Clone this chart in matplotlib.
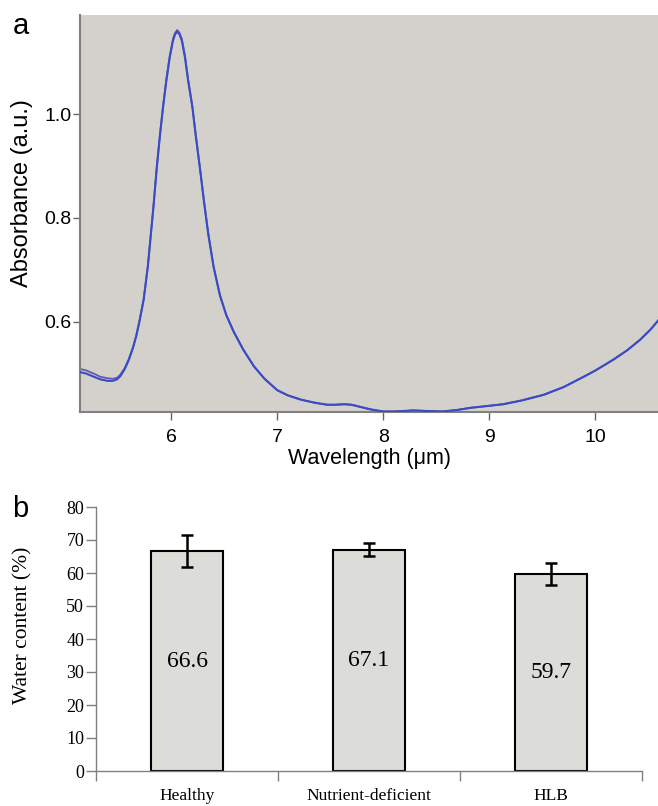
import matplotlib
matplotlib.use("Agg")
import matplotlib.pyplot as plt

# ---------------- data: panel a (absorbance spectrum) ----------------
wavelength = [5.14, 5.20, 5.27, 5.33, 5.40, 5.45, 5.49, 5.52, 5.56, 5.60, 5.64, 5.67,
              5.70, 5.74, 5.78, 5.832, 5.864, 5.895, 5.923, 5.954, 5.986, 6.017, 6.037,
              6.057, 6.077, 6.10, 6.13, 6.16, 6.20, 6.23, 6.27, 6.31, 6.35, 6.40, 6.46,
              6.52, 6.59, 6.68, 6.78, 6.88, 7.00, 7.10, 7.22, 7.35, 7.47, 7.55, 7.63,
              7.70, 7.78, 7.88, 8.00, 8.10, 8.20, 8.28, 8.40, 8.56, 8.70, 8.82, 9.00,
              9.13, 9.30, 9.51, 9.70, 9.89, 10.00, 10.17, 10.30, 10.42, 10.52, 10.59]
absorb_1 = [0.503, 0.500, 0.494, 0.489, 0.486, 0.486, 0.489, 0.495, 0.508, 0.526, 0.550, 0.572,
            0.600, 0.642, 0.707, 0.820, 0.897, 0.961, 1.013, 1.064, 1.109, 1.142, 1.154,
            1.159, 1.154, 1.142, 1.109, 1.064, 1.013, 0.961, 0.897, 0.830, 0.768, 0.705, 0.650,
            0.612, 0.580, 0.546, 0.514, 0.490, 0.468, 0.458, 0.450, 0.444, 0.440, 0.440, 0.441,
            0.440, 0.436, 0.431, 0.427, 0.427, 0.428, 0.429, 0.428, 0.427, 0.430, 0.434, 0.438,
            0.441, 0.448, 0.459, 0.474, 0.494, 0.506, 0.527, 0.545, 0.565, 0.585, 0.602]
absorb_2 = [0.509, 0.506, 0.500, 0.494, 0.491, 0.490, 0.492, 0.498, 0.510, 0.528, 0.551, 0.573,
            0.601, 0.643, 0.708, 0.821, 0.898, 0.963, 1.015, 1.067, 1.112, 1.145, 1.157,
            1.162, 1.157, 1.145, 1.112, 1.066, 1.014, 0.962, 0.898, 0.831, 0.769, 0.706, 0.651,
            0.613, 0.581, 0.546, 0.514, 0.490, 0.468, 0.458, 0.450, 0.444, 0.440, 0.440, 0.441,
            0.440, 0.436, 0.431, 0.427, 0.427, 0.428, 0.429, 0.428, 0.427, 0.430, 0.434, 0.438,
            0.441, 0.448, 0.459, 0.474, 0.494, 0.506, 0.527, 0.545, 0.565, 0.585, 0.602]
a_xticks = [6, 7, 8, 9, 10]
a_yticks = [0.6, 0.8, 1.0]

# ---------------- data: panel b (water content) ----------------
groups = ["Healthy", "Nutrient-deficient", "HLB"]
water = [66.6, 67.1, 59.7]
water_err = [4.9, 2.0, 3.4]
b_yticks = [0, 10, 20, 30, 40, 50, 60, 70, 80]

fig = plt.figure(figsize=(6.58, 8.06), dpi=100)

# ---------- panel a ----------
sans = "Liberation Sans"
axa = fig.add_axes([80/658, 1-412/806, 578/658, 397/806])
axa.set_facecolor("#d4d0cb")
axa.plot(wavelength, absorb_2, color="#6658b0", lw=1.3, zorder=2, solid_joinstyle="round")
axa.plot(wavelength, absorb_1, color="#3a4cc4", lw=1.5, zorder=3, solid_joinstyle="round")
axa.set_xlim(5.14, 10.59)
axa.set_ylim(0.426, 1.191)
axa.set_xticks(a_xticks)
axa.set_yticks(a_yticks)
axa.set_xticklabels([str(v) for v in a_xticks], fontsize=14, family=sans)
axa.set_yticklabels(["%.1f" % v for v in a_yticks], fontsize=14, family=sans)
axa.tick_params(axis="x", direction="out", length=6, width=1, color="#666666", pad=6)
axa.tick_params(axis="y", direction="out", length=5, width=1, color="#666666", pad=1)
for s in ["top", "right"]:
    axa.spines[s].set_visible(False)
for s in ["left", "bottom"]:
    axa.spines[s].set_color("#808080")
    axa.spines[s].set_linewidth(1.5)
axa.set_xlabel("Wavelength (\u03bcm)", fontsize=15.5, family=sans, labelpad=2)
axa.set_ylabel("Absorbance (a.u.)", fontsize=17, family=sans)
axa.yaxis.set_label_coords(-0.0813, 0.552)
fig.text(13/658, 1-34/806, "a", fontsize=21, family=sans, ha="left", va="baseline")

# ---------- panel b ----------
serif = "Liberation Serif"
axb = fig.add_axes([96/658, 1-771/806, 546/658, 264/806])
pos = [0.5, 1.5, 2.5]
axb.bar(pos, water, width=0.4, color="#dcdcd8", edgecolor="black", linewidth=1.5, zorder=2)
axb.errorbar(pos, water, yerr=water_err, fmt="none", ecolor="black", elinewidth=1.8,
             capsize=4.5, capthick=1.8, zorder=3)
for p, v in zip(pos, water):
    axb.text(p, v / 2, "%.1f" % v, ha="center", va="center", fontsize=17, family=serif, zorder=4)
axb.set_xlim(0, 3)
axb.set_ylim(0, 80)
axb.set_yticks(b_yticks)
axb.set_yticklabels([str(v) for v in b_yticks], fontsize=13, family=serif)
axb.set_xticks([0, 1, 2, 3])
axb.set_xticklabels([])
axb.set_xticks(pos, minor=True)
axb.set_xticklabels(groups, minor=True, fontsize=12.5, family=serif)
axb.tick_params(axis="x", which="major", direction="out", length=7, width=1, color="#808080")
axb.tick_params(axis="x", which="minor", length=0, pad=12)
axb.tick_params(axis="y", direction="out", length=7, width=1, color="#808080", pad=1.5)
for s in ["top", "right"]:
    axb.spines[s].set_visible(False)
for s in ["left", "bottom"]:
    axb.spines[s].set_color("#808080")
    axb.spines[s].set_linewidth(1.0)
axb.set_ylabel("Water content (%)", fontsize=15.5, family=serif)
axb.yaxis.set_label_coords(-0.117, 0.553)
fig.text(12/658, 1-517/806, "b", fontsize=21, family=sans, ha="left", va="baseline")

fig.savefig("out.png", dpi=100)
